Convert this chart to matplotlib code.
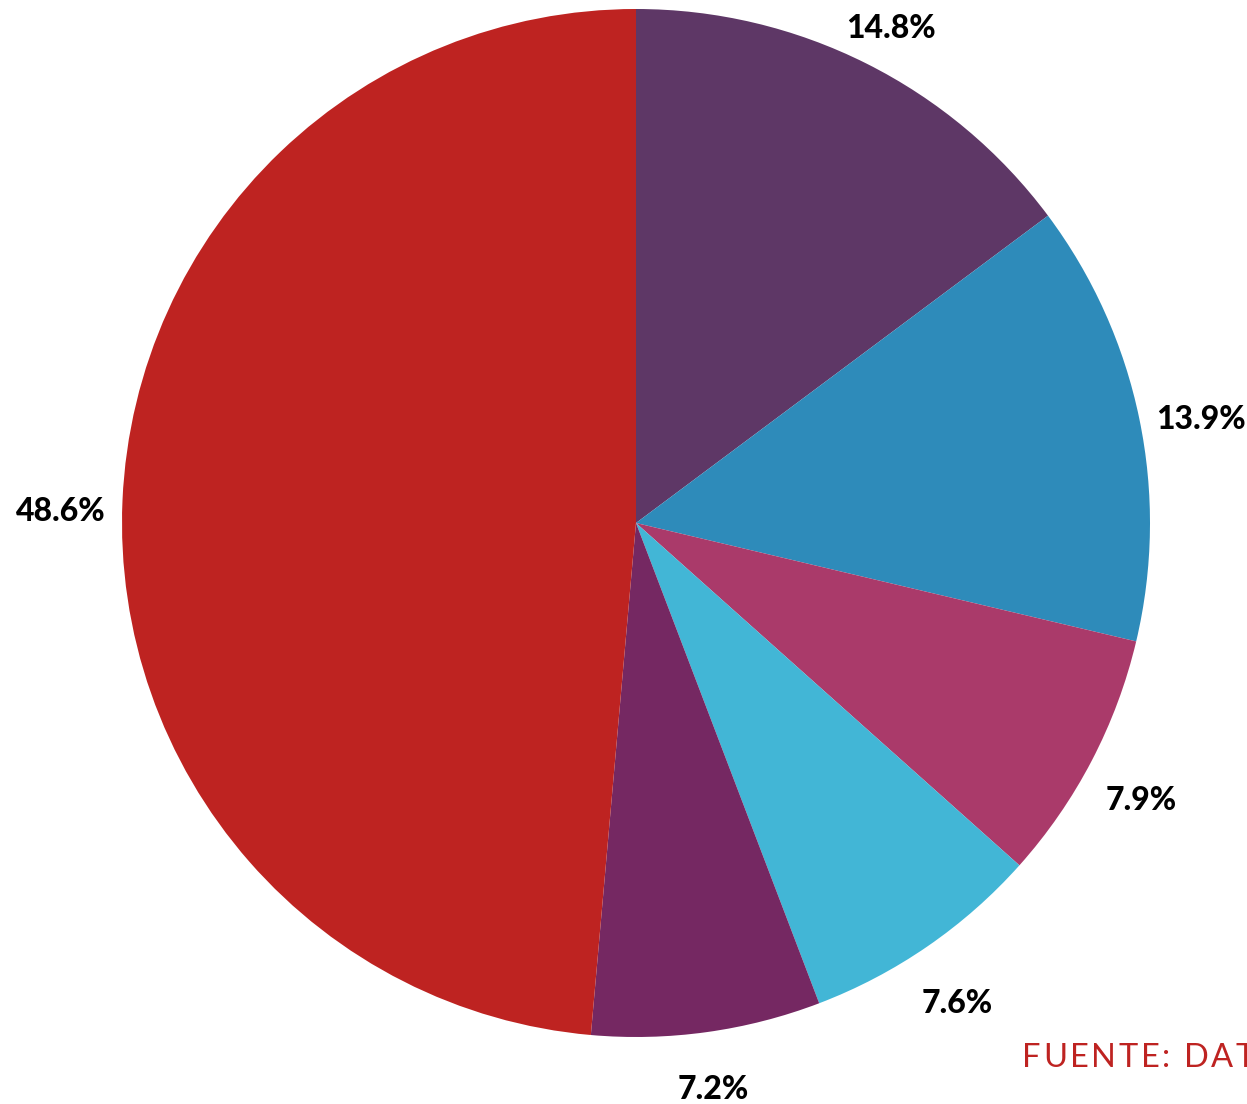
import matplotlib
matplotlib.use("Agg")
import matplotlib.pyplot as plt
import numpy as np

values = [14.8, 13.9, 7.9, 7.6, 7.2, 48.6]
labels = ["14.8%", "13.9%", "7.9%", "7.6%", "7.2%", "48.6%"]
colors = ["#5E3766", "#2E8BBA", "#AA3A6A", "#42B6D6", "#752862", "#BE2321"]
source = "FUENTE: DAT"

W, H = 1247, 1104
fig = plt.figure(figsize=(W / 100, H / 100), dpi=100)
ax = fig.add_axes([0, 0, 1, 1])
ax.set_xlim(0, W)
ax.set_ylim(0, H)
ax.set_aspect("equal")
ax.axis("off")

cx, cy, R = 636, H - 523, 514
wedges, _ = ax.pie(values, colors=colors, startangle=90, counterclock=False,
                   center=(cx, cy), radius=R,
                   wedgeprops=dict(linewidth=0))

fig.canvas.draw()
renderer = fig.canvas.get_renderer()
fam = ["Lato", "DejaVu Sans"]
for w, lab in zip(wedges, labels):
    th = np.deg2rad((w.theta1 + w.theta2) / 2)
    t = ax.text(cx, cy, lab, fontsize=23, fontweight="black", family=fam,
                color="black", ha="center", va="center")
    bb = t.get_window_extent(renderer)
    d = R + 26 + (bb.width / 2 - 10) * abs(np.cos(th)) + bb.height / 2 * abs(np.sin(th))
    t.set_position((cx + d * np.cos(th), cy + d * np.sin(th) - 14))

# letter-spaced source line
x0, y0, sp = 1022, H - 1058, 2.6
for i, ch in enumerate(source):
    if i > 0:
        tmp = ax.text(0, 0, source[:i] + "|", fontsize=23.5, family=fam)
        bar = ax.text(0, 0, "|", fontsize=23.5, family=fam)
        off = tmp.get_window_extent(renderer).width - bar.get_window_extent(renderer).width
        tmp.remove()
        bar.remove()
    else:
        off = 0
    ax.text(x0 + off + i * sp, y0, ch, fontsize=23.5, color="#BE2321", family=fam,
            ha="left", va="center")

ax.set_xlim(0, W)
ax.set_ylim(0, H)
fig.savefig("out.png", dpi=100)
